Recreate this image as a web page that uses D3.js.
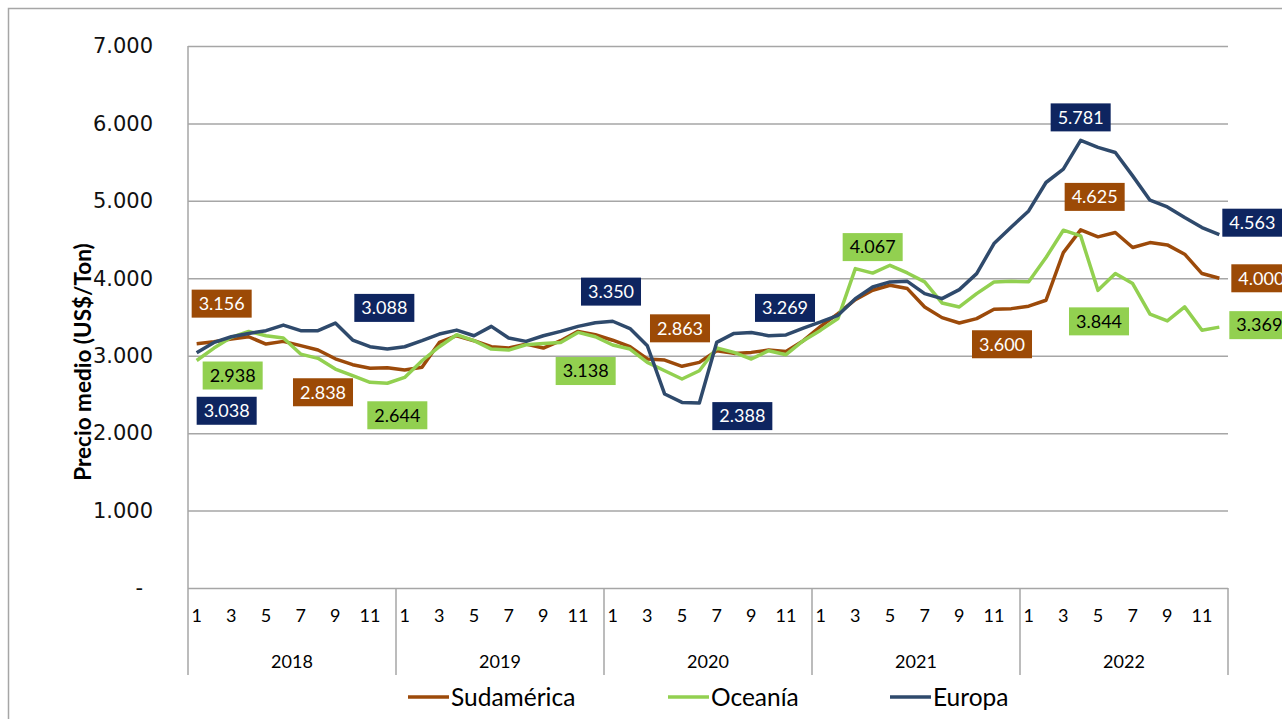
<!DOCTYPE html>
<html>
<head>
<meta charset="utf-8">
<script src="https://cdn.jsdelivr.net/npm/d3@7"></script>
<style>
  body { margin: 0; background: #fff; }
  svg { display: block; }
</style>
</head>
<body>
<div id="chart"></div>
<script>
// categories
const years = ["2018", "2019", "2020", "2021", "2022"];
const months = d3.range(1, 13);
const monthTicks = [1, 3, 5, 7, 9, 11];
const yTicks = [0, 1000, 2000, 3000, 4000, 5000, 6000, 7000];

// series values (US$/Ton), Jan 2018 .. Dec 2022
const sudamerica = [
  3156, 3180, 3215, 3245, 3150, 3185, 3130, 3073, 2960, 2884, 2838, 2845,
  2815, 2850, 3172, 3258, 3194, 3116, 3099, 3150, 3099, 3194, 3314, 3271,
  3200, 3116, 2957, 2944, 2863, 2914, 3065, 3030, 3043, 3073, 3056, 3194,
  3380, 3544, 3724, 3845, 3910, 3867, 3630, 3492, 3423, 3479, 3600, 3608,
  3640, 3716, 4332, 4625, 4535, 4591, 4397, 4461, 4431, 4311, 4061, 4000
];
const oceania = [
  2938, 3099, 3237, 3314, 3258, 3228, 3021, 2966, 2828, 2742, 2656, 2644,
  2720, 2935, 3116, 3271, 3194, 3086, 3073, 3142, 3159, 3172, 3301, 3245,
  3138, 3086, 2914, 2806, 2699, 2806, 3099, 3043, 2957, 3065, 3013, 3194,
  3330, 3480, 4125, 4067, 4168, 4069, 3953, 3681, 3630, 3802, 3953, 3961,
  3955, 4268, 4621, 4548, 3844, 4061, 3932, 3536, 3450, 3631, 3329, 3369
];
const europa = [
  3038, 3172, 3245, 3288, 3323, 3396, 3323, 3323, 3422, 3202, 3116, 3088,
  3116, 3194, 3280, 3331, 3258, 3379, 3228, 3185, 3258, 3314, 3379, 3426,
  3445, 3350, 3129, 2505, 2397, 2388, 3172, 3288, 3301, 3258, 3269, 3357,
  3436, 3522, 3737, 3888, 3953, 3961, 3802, 3737, 3854, 4060, 4448, 4663,
  4870, 5237, 5409, 5781, 5690, 5625, 5323, 5009, 4922, 4784, 4655, 4563
];

// which points carry a data label
const sudLabels = [0, 10, 28, 46, 51, 59];
const ocLabels = [0, 11, 24, 39, 52, 59];
const euLabels = [0, 11, 25, 29, 34, 51, 59];

const series = [
  { name: "Sudamérica", values: sudamerica, labels: sudLabels, line: "#9C4A0A", box: "#9C4A06", text: "#fff" },
  { name: "Oceanía", values: oceania, labels: ocLabels, line: "#92D050", box: "#92D050", text: "#000" },
  { name: "Europa", values: europa, labels: euLabels, line: "#2F4A6C", box: "#0E2560", text: "#fff" }
];

// label offsets from their point (px)
const labelOffset = {
  "Sudamérica": { 0: [25, -40], 10: [-47, 24], 28: [-2, -38], 46: [8, 35], 51: [14, -33], 59: [42, 0] },
  "Oceanía": { 0: [36, 15], 11: [10, 32], 24: [-27, 26], 39: [0, -26], 52: [1, 31], 59: [40, -2] },
  "Europa": { 0: [30, 58], 11: [-3, -41], 25: [-19, -37], 29: [43, 13], 34: [-1, -27], 51: [0, -23], 59: [33, -12] }
};

const W = 1282, H = 719;
const margin = { top: 46, right: 54, bottom: 131, left: 188 };
const x0 = margin.left, x1 = W - margin.right, y0 = margin.top, y1 = H - margin.bottom;

const locale = d3.formatLocale({ decimal: ",", thousands: ".", grouping: [3], currency: ["$", ""] });
const fmt = locale.format(",.0f");

const svg = d3.select("#chart").append("svg").attr("width", W).attr("height", H);

// outer frame
svg.append("rect").attr("x", 8.5).attr("y", 8.5).attr("width", W + 20).attr("height", H + 20)
  .attr("fill", "none").attr("stroke", "#A6A6A6").attr("stroke-width", 1.5);

const cats = d3.range(years.length * months.length);
const x = d3.scaleBand().domain(cats).range([x0, x1]);
const cx = i => x(i) + x.bandwidth() / 2;
const y = d3.scaleLinear().domain([0, 7000]).range([y1, y0]);

// gridlines
svg.append("g")
  .attr("transform", `translate(${x0},0)`)
  .call(d3.axisLeft(y).tickValues(yTicks).tickSize(-(x1 - x0)).tickFormat(""))
  .call(g => g.select(".domain").remove())
  .call(g => g.selectAll("line").attr("stroke", "#A6A6A6").attr("stroke-width", 1.5));

// y tick labels
svg.append("g")
  .attr("transform", `translate(${x0 - 32},0)`)
  .call(d3.axisLeft(y).tickValues(yTicks).tickSize(0).tickFormat(d => d === 0 ? "-" : fmt(d)))
  .call(g => g.select(".domain").remove())
  .call(g => g.selectAll("text")
    .attr("font-family", "DejaVu Sans").attr("font-size", 21).attr("fill", "#111")
    .attr("dx", d => d === 0 ? -10 : 0));

// y axis line
svg.append("line").attr("x1", x0).attr("x2", x0).attr("y1", y0).attr("y2", y1)
  .attr("stroke", "#A6A6A6").attr("stroke-width", 1.5);

// y title
svg.append("text")
  .attr("transform", `translate(91,362) rotate(-90)`)
  .attr("text-anchor", "middle")
  .attr("font-family", "Lato").attr("font-weight", 700).attr("font-size", 22.5)
  .text("Precio medio (US$/Ton)");

// category axis: months and years
const xa = svg.append("g").attr("font-family", "Lato").attr("font-size", 18);
const sepBottom = y1 + 87;
years.forEach((yr, k) => {
  const start = k * 12;
  xa.append("line")
    .attr("x1", x(start)).attr("x2", x(start))
    .attr("y1", y1).attr("y2", sepBottom)
    .attr("stroke", "#A6A6A6").attr("stroke-width", 1.5);
  monthTicks.forEach(m => {
    xa.append("text").attr("x", cx(start + m - 1)).attr("y", y1 + 34)
      .attr("text-anchor", "middle").text(m);
  });
  xa.append("text")
    .attr("x", (x(start) + x(start + 11) + x.bandwidth()) / 2).attr("y", y1 + 80)
    .attr("text-anchor", "middle").text(yr);
});
xa.append("line")
  .attr("x1", x1).attr("x2", x1).attr("y1", y1).attr("y2", sepBottom)
  .attr("stroke", "#A6A6A6").attr("stroke-width", 1.5);

// lines
const line = d3.line().x((d, i) => cx(i)).y(d => y(d));
series.forEach(s => {
  svg.append("path").datum(s.values)
    .attr("fill", "none").attr("stroke", s.line).attr("stroke-width", 3.5)
    .attr("stroke-linejoin", "round").attr("d", line);
});

// data labels
series.forEach(s => {
  s.labels.forEach(i => {
    const [dx, dy] = labelOffset[s.name][i];
    const g = svg.append("g").attr("transform", `translate(${cx(i) + dx},${y(s.values[i]) + dy})`);
    const rect = g.append("rect").attr("fill", s.box);
    const t = g.append("text")
      .attr("text-anchor", "middle").attr("dy", "0.35em")
      .attr("font-family", "Lato").attr("font-size", 18).attr("fill", s.text)
      .text(fmt(s.values[i]));
    const bb = t.node().getBBox();
    rect.attr("x", -bb.width / 2 - 7).attr("y", -14).attr("width", bb.width + 14).attr("height", 28);
  });
});

// legend
const legendX = [408, 668, 890];
const lg = svg.append("g").attr("font-family", "Lato").attr("font-size", 24.5);
series.forEach((s, k) => {
  lg.append("line").attr("x1", legendX[k]).attr("x2", legendX[k] + 41)
    .attr("y1", 697).attr("y2", 697).attr("stroke", s.line).attr("stroke-width", 3.5);
  lg.append("text").attr("x", legendX[k] + 43).attr("y", 697).attr("dy", "0.35em").text(s.name);
});
</script>
</body>
</html>
